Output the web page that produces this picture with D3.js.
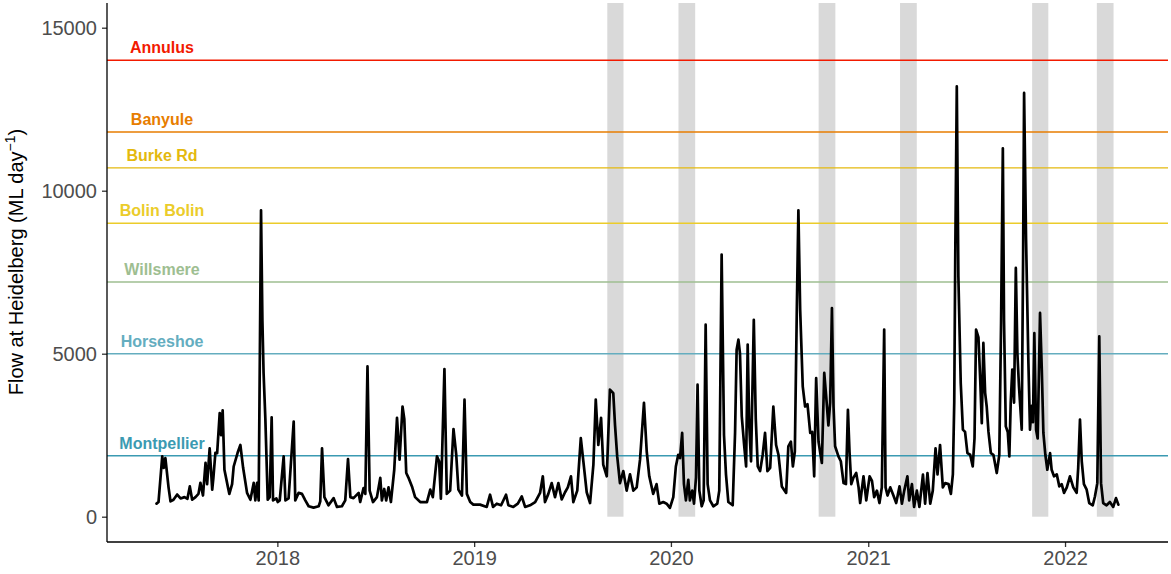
<!DOCTYPE html>
<html><head><meta charset="utf-8">
<script src="https://cdn.jsdelivr.net/npm/d3@7"></script>
<style>body{margin:0;background:#fff;} svg{display:block;font-family:"Liberation Sans",Arial,sans-serif;}</style>
</head><body><svg id="chart" width="1171" height="574"></svg>
<script>
// Flow series: decimal years and ML/day values
const flowYears = [2017.386,2017.396,2017.415,2017.423,2017.431,2017.447,2017.457,2017.472,2017.491,2017.508,2017.528,2017.543,2017.555,2017.567,2017.584,2017.599,2017.609,2017.622,2017.635,2017.643,2017.656,2017.669,2017.675,2017.685,2017.694,2017.707,2017.714,2017.722,2017.731,2017.748,2017.756,2017.770,2017.778,2017.798,2017.812,2017.826,2017.846,2017.863,2017.880,2017.888,2017.897,2017.905,2017.917,2017.924,2017.930,2017.939,2017.951,2017.961,2017.971,2017.978,2017.995,2018.002,2018.012,2018.032,2018.041,2018.057,2018.083,2018.091,2018.108,2018.125,2018.142,2018.159,2018.184,2018.210,2018.218,2018.227,2018.239,2018.260,2018.286,2018.303,2018.328,2018.345,2018.359,2018.371,2018.387,2018.413,2018.421,2018.438,2018.447,2018.458,2018.469,2018.486,2018.506,2018.523,2018.531,2018.543,2018.553,2018.565,2018.577,2018.594,2018.608,2018.621,2018.636,2018.645,2018.655,2018.666,2018.684,2018.700,2018.726,2018.760,2018.777,2018.790,2018.811,2018.822,2018.831,2018.849,2018.861,2018.878,2018.895,2018.909,2018.920,2018.938,2018.951,2018.963,2018.980,2018.996,2019.030,2019.064,2019.081,2019.096,2019.115,2019.137,2019.162,2019.174,2019.199,2019.222,2019.242,2019.259,2019.284,2019.310,2019.335,2019.349,2019.360,2019.377,2019.394,2019.411,2019.428,2019.445,2019.462,2019.476,2019.492,2019.504,2019.524,2019.542,2019.555,2019.572,2019.589,2019.606,2019.618,2019.631,2019.645,2019.656,2019.674,2019.690,2019.707,2019.716,2019.727,2019.741,2019.758,2019.775,2019.792,2019.809,2019.826,2019.843,2019.863,2019.877,2019.890,2019.910,2019.927,2019.941,2019.961,2019.978,2019.995,2020.012,2020.025,2020.037,2020.046,2020.057,2020.066,2020.076,2020.088,2020.096,2020.108,2020.117,2020.127,2020.135,2020.144,2020.156,2020.166,2020.176,2020.186,2020.198,2020.215,2020.235,2020.245,2020.257,2020.269,2020.279,2020.291,2020.313,2020.325,2020.333,2020.342,2020.350,2020.359,2020.371,2020.381,2020.389,2020.397,2020.406,2020.420,2020.430,2020.440,2020.452,2020.465,2020.477,2020.489,2020.503,2020.519,2020.533,2020.545,2020.562,2020.584,2020.595,2020.608,2020.618,2020.628,2020.638,2020.646,2020.655,2020.668,2020.680,2020.692,2020.706,2020.716,2020.726,2020.736,2020.748,2020.765,2020.777,2020.788,2020.798,2020.807,2020.816,2020.824,2020.832,2020.849,2020.861,2020.875,2020.887,2020.897,2020.905,2020.914,2020.925,2020.939,2020.951,2020.959,2020.976,2020.990,2021.007,2021.019,2021.030,2021.044,2021.057,2021.069,2021.081,2021.088,2021.098,2021.112,2021.128,2021.142,2021.159,2021.171,2021.183,2021.199,2021.208,2021.222,2021.233,2021.247,2021.260,2021.278,2021.289,2021.301,2021.315,2021.328,2021.342,2021.352,2021.365,2021.379,2021.391,2021.408,2021.420,2021.430,2021.437,2021.442,2021.450,2021.458,2021.470,2021.481,2021.492,2021.504,2021.518,2021.531,2021.540,2021.548,2021.560,2021.569,2021.577,2021.585,2021.594,2021.602,2021.611,2021.623,2021.636,2021.653,2021.666,2021.675,2021.684,2021.690,2021.699,2021.709,2021.717,2021.724,2021.732,2021.741,2021.750,2021.758,2021.766,2021.780,2021.787,2021.792,2021.802,2021.814,2021.822,2021.831,2021.837,2021.844,2021.853,2021.861,2021.873,2021.882,2021.890,2021.900,2021.910,2021.924,2021.932,2021.944,2021.958,2021.971,2021.983,2021.995,2022.009,2022.025,2022.042,2022.059,2022.067,2022.076,2022.085,2022.096,2022.110,2022.123,2022.141,2022.152,2022.164,2022.174,2022.183,2022.194,2022.211,2022.228,2022.245,2022.259,2022.271];
const flowValues = [400,450,1850,1500,1800,900,470,520,680,560,600,550,930,520,600,700,1040,650,1650,1000,2100,830,1200,1960,1950,3180,2500,3260,1440,930,700,1000,1540,1960,2200,1500,730,520,1040,500,1040,500,9400,6000,4400,3000,520,600,3050,500,560,450,500,1850,500,560,2920,500,730,700,500,320,280,320,470,2100,600,350,570,300,320,500,1770,600,570,730,450,880,700,4610,800,450,600,1190,500,850,500,900,450,1440,3030,1750,3380,3000,1340,1200,930,600,450,450,830,600,1850,1700,550,4530,700,800,2690,1900,830,650,3590,700,450,370,370,300,675,300,400,350,675,350,300,400,620,300,350,450,730,1240,450,700,1030,600,1030,530,750,900,1240,450,800,2410,1700,750,420,1600,3590,2200,3030,1600,1240,3900,3790,2800,1850,1030,1400,800,1300,800,900,1750,3490,2000,1240,700,1000,400,450,400,270,600,1540,1900,1800,2570,1000,500,1130,500,800,400,1200,4050,800,320,500,5890,1000,500,320,400,800,8040,2500,1300,450,350,2570,5120,5430,5000,3080,2200,1540,5280,2800,1700,6040,3000,1540,1400,1900,2570,1400,1500,3380,2200,1900,930,730,2160,2300,1540,2000,6350,9400,6350,4000,3380,3450,2570,2600,1240,4250,2300,1650,4410,3600,2800,3500,6400,3380,2160,1850,1700,1030,1000,3280,2000,1000,1200,1340,900,420,1240,500,1240,1100,600,800,420,900,5740,900,650,900,650,420,930,400,800,1240,500,1000,300,800,300,1290,400,1340,400,800,2100,1300,2200,900,1030,1000,700,1300,3500,7880,13200,7370,4100,2670,2600,1950,1900,1540,2400,5740,5500,4200,2870,5330,3800,3380,2600,1950,1900,1340,1900,5940,11300,6000,2770,2600,1850,3500,4510,3500,7630,5000,4000,2670,8000,13000,8500,4700,2670,3400,2900,5630,2670,2400,6250,4500,2570,1900,1440,1950,1440,1240,1300,930,1000,730,900,1240,900,730,1500,2980,1700,1000,830,420,350,620,1030,5530,1030,420,350,450,300,570,370];

// Threshold lines
const thresholdNames  = ["Montpellier","Horseshoe","Willsmere","Bolin Bolin","Burke Rd","Banyule","Annulus"];
const thresholdValues = [1870,5000,7200,9000,10700,11800,14000];
const thresholdColors = ["#3B9AB2","#64ADBF","#9EBE91","#EBCC2A","#E4B90E","#E77D00","#F21A00"];
const labelDate = "2017-06-01";

// Shaded periods
const bandStarts = ["2019-09-05","2020-01-15","2020-10-01","2021-03-01","2021-11-01","2022-03-01"];
const bandEnds   = ["2019-10-05","2020-02-15","2020-11-01","2021-04-01","2021-12-01","2022-04-01"];

// Axes
const yTicks = [0,5000,10000,15000];
const xTickYears = [2018,2019,2020,2021,2022];
const xDomain = ["2017-02-19","2022-07-11"];
const yDomain = [-776,15758];

function decYearToDate(v){
  const yr = Math.floor(v);
  const s = Date.UTC(yr,0,1), e = Date.UTC(yr+1,0,1);
  return new Date(s + (v-yr)*(e-s));
}
const parse = d3.utcParse("%Y-%m-%d");

const svg = d3.select("#chart");
const pLeft = 107, pRight = 1168, pTop = 3, pBottom = 542;

const x = d3.scaleUtc().domain(xDomain.map(parse)).range([pLeft,pRight]);
const y = d3.scaleLinear().domain(yDomain).range([pBottom,pTop]);

// bands
svg.append("g").selectAll("rect").data(bandStarts.map((s,i)=>({s:parse(s),e:parse(bandEnds[i])})))
  .join("rect")
  .attr("x",d=>x(d.s)).attr("width",d=>x(d.e)-x(d.s))
  .attr("y",pTop).attr("height",y(0)-pTop)
  .attr("fill","#D9D9D9");

// threshold lines
const th = thresholdNames.map((n,i)=>({name:n,value:thresholdValues[i],color:thresholdColors[i]}));
svg.append("g").selectAll("line").data(th).join("line")
  .attr("x1",pLeft).attr("x2",pRight)
  .attr("y1",d=>y(d.value)).attr("y2",d=>y(d.value))
  .attr("stroke",d=>d.color).attr("stroke-width",1.4);

svg.append("g").selectAll("text").data(th).join("text")
  .attr("x",x(parse(labelDate))).attr("y",d=>y(d.value)-7)
  .attr("text-anchor","middle")
  .attr("font-weight","bold").attr("font-size",16)
  .attr("fill",d=>d.color).text(d=>d.name);

// flow line
const series = flowYears.map((t,i)=>({date:decYearToDate(t),v:flowValues[i]}));
svg.append("path").datum(series)
  .attr("fill","none").attr("stroke","#000").attr("stroke-width",2.7)
  .attr("stroke-linejoin","round").attr("stroke-linecap","round")
  .attr("d",d3.line().x(d=>x(d.date)).y(d=>y(d.v)));

// axes
const xAxis = d3.axisBottom(x).tickValues(xTickYears.map(yr=>new Date(Date.UTC(yr,0,1))))
  .tickFormat(d3.utcFormat("%Y")).tickSizeOuter(0).tickSize(5).tickPadding(4);
const gx = svg.append("g").attr("transform",`translate(0,${pBottom})`).call(xAxis);
const yAxis = d3.axisLeft(y).tickValues(yTicks).tickFormat(d3.format("d")).tickSizeOuter(0).tickSize(5).tickPadding(5);
const gy = svg.append("g").attr("transform",`translate(${pLeft},0)`).call(yAxis);
[gx,gy].forEach(g=>{
  g.select(".domain").remove();
  g.selectAll(".tick line").attr("stroke","#333").attr("stroke-width",1.3);
  g.selectAll(".tick text").attr("fill","#4D4D4D").attr("font-size",20)
    .attr("font-family","'Liberation Sans',Arial,sans-serif");
});
svg.append("line").attr("x1",pLeft).attr("x2",pRight).attr("y1",pBottom).attr("y2",pBottom)
  .attr("stroke","#000").attr("stroke-width",1.3);
svg.append("line").attr("x1",pLeft).attr("x2",pLeft).attr("y1",pTop).attr("y2",pBottom)
  .attr("stroke","#000").attr("stroke-width",1.3);

// y title
const title = svg.append("text")
  .attr("transform","translate(23,262) rotate(-90)")
  .attr("text-anchor","middle").attr("font-size",20).attr("fill","#000");
title.append("tspan").text("Flow at Heidelberg (ML day");
title.append("tspan").attr("font-size",14).attr("dy",-8).text("\u22121");
title.append("tspan").attr("dy",8).text(")");
</script></body></html>
